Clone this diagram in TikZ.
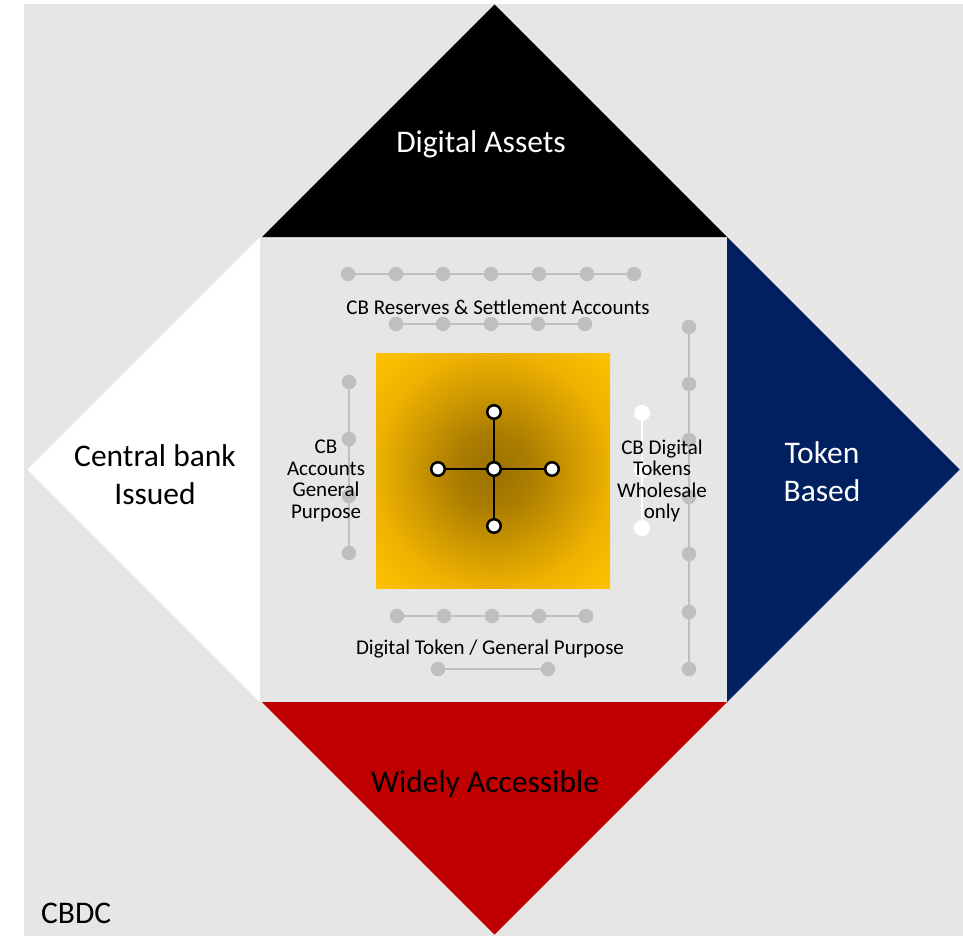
\documentclass[tikz,border=0pt]{standalone}
\usepackage{fontspec}
\setmainfont{Carlito}
\definecolor{bg}{HTML}{E6E6E6}
\definecolor{navy}{HTML}{002060}
\definecolor{cbred}{HTML}{C00000}
\definecolor{dotgray}{HTML}{BFBFBF}
\definecolor{goldout}{HTML}{FFC300}
\definecolor{goldmid}{HTML}{EEB100}
\definecolor{goldin}{HTML}{9A7000}
\pgfdeclareradialshading{goldshade}{\pgfpoint{0bp}{0bp}}{color(0bp)=(goldin); color(8bp)=(goldin!80!goldmid); color(25bp)=(goldmid); color(35.4bp)=(goldout); color(50bp)=(goldout)}
\tikzset{
  big/.style={font=\fontsize{31.5}{38}\selectfont, inner sep=0pt, align=center},
  small/.style={font=\fontsize{21}{21.5}\selectfont, inner sep=0pt, align=center},
  gdot/.style={circle, fill=dotgray, minimum size=14.5pt, inner sep=0pt},
  gline/.style={draw=dotgray, line width=2pt},
  wdot/.style={circle, fill=white, minimum size=16pt, inner sep=0pt},
  wline/.style={draw=white, line width=2pt},
  xdot/.style={circle, fill=white, draw=black, line width=2.5pt, minimum size=13.5pt, inner sep=0pt},
  xline/.style={draw=black, line width=1.5pt}
}
\begin{document}
\begin{tikzpicture}[x=1pt,y=-1pt]
\useasboundingbox (0,0) rectangle (963,936);
\fill[bg] (24,4) rectangle (963,936);
% four triangles
\fill[black] (262,237) -- (727,237) -- (494.5,4.5) -- cycle;
\fill[white] (260,237) -- (260,702) -- (27.5,469.5) -- cycle;
\fill[navy] (727,237) -- (727,702) -- (959.5,469.5) -- cycle;
\fill[cbred] (262,702) -- (727,702) -- (494.5,934.5) -- cycle;
% gold square
\shade[shading=goldshade] (376,353) rectangle (610,588);
% top rows
\foreach \i/\x in {1/348,2/396,3/443,4/491,5/539,6/587,7/634}{\node[gdot] (ta\i) at (\x,274) {};}
\foreach \a/\b in {1/2,2/3,3/4,4/5,5/6,6/7}{\draw[gline] (ta\a) -- (ta\b);}
\foreach \i/\x in {1/396,2/443,3/491,4/538,5/585}{\node[gdot] (tb\i) at (\x,324) {};}
\foreach \a/\b in {1/2,2/3,3/4,4/5}{\draw[gline] (tb\a) -- (tb\b);}
% bottom rows
\foreach \i/\x in {1/397,2/444,3/492,4/539,5/586}{\node[gdot] (ba\i) at (\x,616) {};}
\foreach \a/\b in {1/2,2/3,3/4,4/5}{\draw[gline] (ba\a) -- (ba\b);}
\node[gdot] (bb1) at (438,669) {};
\node[gdot] (bb2) at (548,669) {};
\draw[gline] (bb1) -- (bb2);
% left column
\foreach \i/\y in {1/382,2/439,3/496,4/553}{\node[gdot] (la\i) at (349,\y) {};}
\foreach \a/\b in {1/2,2/3,3/4}{\draw[gline] (la\a) -- (la\b);}
% right column
\foreach \i/\y in {1/327,2/384,3/440,4/497,5/554,6/612,7/669}{\node[gdot] (ra\i) at (689,\y) {};}
\foreach \a/\b in {1/2,2/3,3/4,4/5,5/6,6/7}{\draw[gline] (ra\a) -- (ra\b);}
% white column
\node[wdot] (w1) at (642,413) {};
\node[wdot] (w2) at (642,470) {};
\node[wdot] (w3) at (642,528) {};
\draw[wline] (w1) -- (w2);
\draw[wline] (w2) -- (w3);
% cross
\node[xdot] (c0) at (494,469) {};
\node[xdot] (cn) at (494,412) {};
\node[xdot] (cs) at (494,526) {};
\node[xdot] (cw) at (438,469) {};
\node[xdot] (ce) at (552,469) {};
\draw[xline] (c0) -- (cn);
\draw[xline] (c0) -- (cs);
\draw[xline] (c0) -- (cw);
\draw[xline] (c0) -- (ce);
% small labels
\node[small] (lres) at (498,307) {CB Reserves \& Settlement Accounts};
\node[small] (ldtg) at (490,649) {Digital Token / General Purpose};
\node[small] (lacc) at (326,481) {CB\\Accounts\\General\\Purpose};
\node[small] (ltok) at (662,481) {CB Digital\\Tokens\\Wholesale\\only};
% big labels
\node[big, text=white] (da) at (481,144) {Digital Assets};
\node[big] (cbi) at (155,475) {Central bank\\Issued};
\node[big, text=white] (tbs) at (822,472) {Token\\Based};
\node[big] (wac) at (485,784) {Widely Accessible};
\node[big, anchor=west] (cbdc) at (41,913) {CBDC};
\end{tikzpicture}
\end{document}
